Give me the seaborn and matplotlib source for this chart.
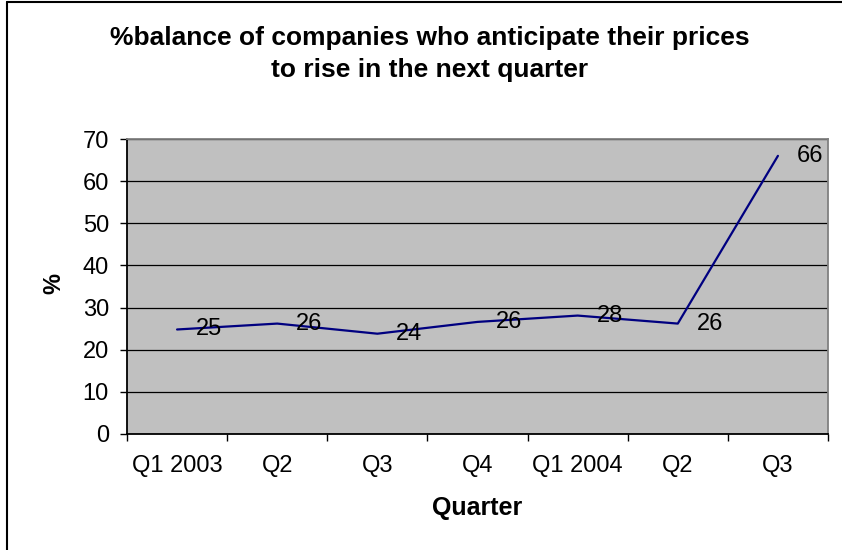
import matplotlib
matplotlib.use("Agg")
import matplotlib.pyplot as plt
import seaborn as sns
import pandas as pd
from matplotlib.lines import Line2D

quarters = ["Q1 2003", "Q2", "Q3", "Q4", "Q1 2004", "Q2", "Q3"]
positions = [0, 1, 2, 3, 4, 5, 6]
values = [24.8, 26.2, 23.8, 26.6, 28.1, 26.2, 66.0]
labels = ["25", "26", "24", "26", "28", "26", "66"]
yticks = [0, 10, 20, 30, 40, 50, 60, 70]

sns.set_theme(style="white")
plt.rcParams['font.family'] = ['Liberation Sans', 'DejaVu Sans']
plt.rcParams['text.color'] = 'black'
plt.rcParams['xtick.color'] = 'black'
plt.rcParams['ytick.color'] = 'black'

W, H = 842, 550
fig = plt.figure(figsize=(W / 100, H / 100), dpi=100)
fig.patch.set_facecolor("white")
ax = fig.add_axes([127 / W, (H - 434) / H, 701 / W, 295 / H])
ax.set_facecolor("#C0C0C0")

df = pd.DataFrame({"pos": positions, "val": values})
sns.lineplot(data=df, x="pos", y="val", ax=ax, color="#000080", linewidth=1.6, sort=False)

for p, v, t in zip(positions, values, labels):
    ax.annotate(t, (p, v), xytext=(23, 0), textcoords="offset points",
                ha="center", va="center", fontsize=17, color="black")

ax.set_xlim(-0.5, 6.5)
ax.set_ylim(0, 70)
ax.set_yticks(yticks)
ax.set_yticklabels([str(t) for t in yticks])
ax.set_xticks(positions)
ax.set_xticklabels(quarters)
ax.set_xticks([p - 0.5 for p in positions] + [6.5], minor=True)
ax.tick_params(axis="x", which="major", length=0, pad=15, labelsize=17, labelcolor="black")
ax.tick_params(axis="x", which="minor", length=5, width=1, color="black", direction="out", bottom=True)
ax.tick_params(axis="y", which="major", length=5, width=1, color="black", direction="out",
               left=True, pad=8, labelsize=17, labelcolor="black")

ax.grid(axis="y", color="black", linewidth=0.9)
ax.set_axisbelow(True)
for side in ["left", "bottom"]:
    ax.spines[side].set_color("black")
    ax.spines[side].set_linewidth(1.3)
for side in ["top", "right"]:
    ax.spines[side].set_color("#808080")
    ax.spines[side].set_linewidth(1.3)

ax.set_xlabel("")
ax.set_ylabel("")
fig.text(477 / W, 1 - 508 / H, "Quarter", ha="center", va="center", fontsize=18,
         fontweight="bold", color="black")
fig.text(54 / W, 1 - 284 / H, "%", ha="center", va="center", fontsize=17, fontweight="bold",
         rotation=90, color="black")
fig.text(430 / W, 1 - 54 / H, "%balance of companies who anticipate their prices\nto rise in the next quarter",
         ha="center", va="center", fontsize=19, fontweight="bold", linespacing=1.38, color="black")

# outer chart border (top and left visible)
fig.add_artist(Line2D([7 / W, 7 / W], [0, 1 - 1.5 / H], transform=fig.transFigure, color="black", linewidth=1.5))
fig.add_artist(Line2D([7 / W, 1], [1 - 1.5 / H, 1 - 1.5 / H], transform=fig.transFigure, color="black", linewidth=1.5))

fig.savefig("out.png", dpi=100)
